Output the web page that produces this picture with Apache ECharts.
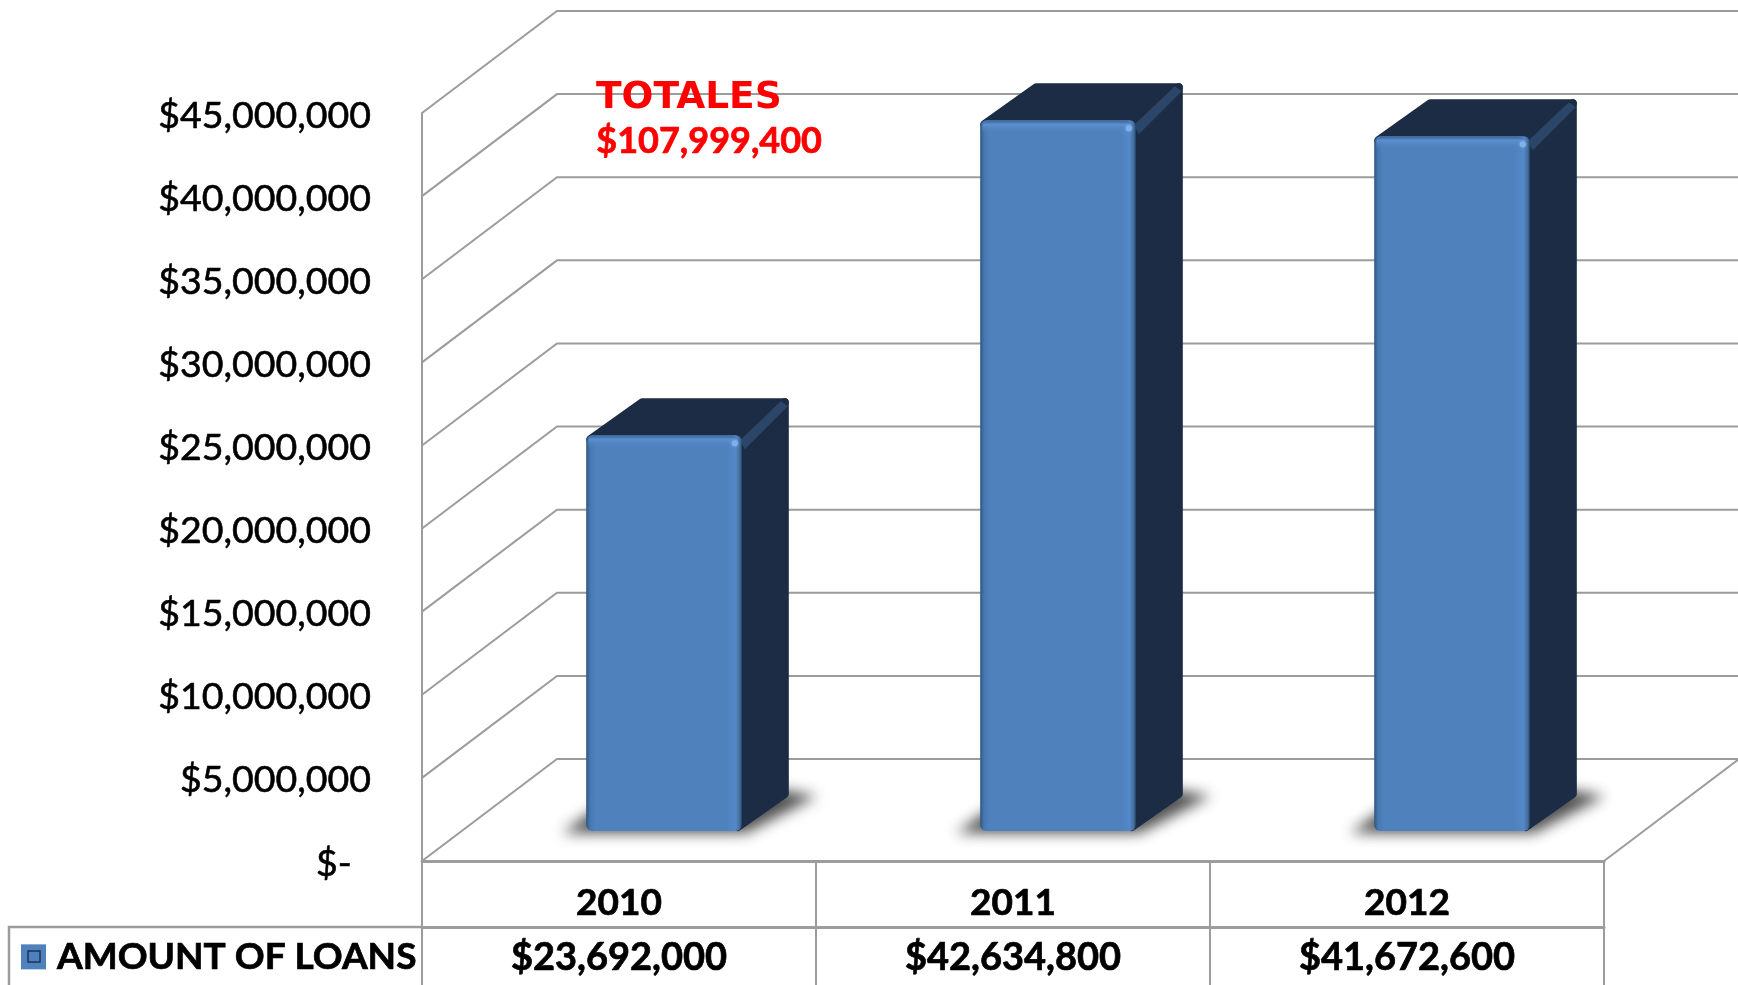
<!DOCTYPE html>
<html>
<head>
<meta charset="utf-8">
<title>Amount of loans</title>
<style type="text/css">
	html, body{
		margin: 0;
		padding: 0;
		background: #fff;
	}
	#chart_box{
		width: 1738px;
		height: 985px;
	}
</style>
<script type="text/javascript" src="https://cdn.jsdelivr.net/npm/echarts@6/dist/echarts.min.js"></script>
</head>
<body>
<div id="chart_box"></div>

<script type="text/javascript">
var categories = ['2010', '2011', '2012'];
var loanValues = [23692000, 42634800, 41672600];
var loanLabels = ['$23,692,000', '$42,634,800', '$41,672,600'];
var tickValues = [0, 5000000, 10000000, 15000000, 20000000, 25000000, 30000000, 35000000, 40000000, 45000000];
var tickLabels = ['$-  ', '$5,000,000', '$10,000,000', '$15,000,000', '$20,000,000', '$25,000,000', '$30,000,000', '$35,000,000', '$40,000,000', '$45,000,000'];
var seriesName = 'AMOUNT OF LOANS';
var totalLines = ['TOTALES', '$107,999,400'];

var GRID_COLOR = '#9c9c9c';
var FACE_COLOR = '#4f81bd';
var DARK_COLOR = '#1b2c44';
var WALL_DEPTH = [135, -102];
var BAR_OFFSET = [45, -30];
var BAR_DEPTH = [47, -37];
var BAR_RATIO = 0.395;
var SHADOW_SHIFT = 3000;

var myChart = echarts.init(document.getElementById('chart_box'), null, {renderer: 'canvas'});

// side wall, back wall and floor lines of the fake 3d box
function renderWall(params, api) {
	var rect = params.coordSys;
	var value = api.value(1);
	var y = api.coord([0, value])[1];
	var backX = rect.x + WALL_DEPTH[0];
	var backY = y + WALL_DEPTH[1];
	var points = [[rect.x, y], [backX, backY], [backX + rect.width, backY]];
	if (value === 0) {
		points.push([rect.x + rect.width, y]);
	}
	return {
		type: 'polyline',
		shape: {points: points},
		style: {stroke: GRID_COLOR, lineWidth: 2, fill: null}
	};
}

function renderBar(params, api) {
	var center = api.coord([api.value(0), 0]);
	var top = api.coord([api.value(0), api.value(1)]);
	var width = api.size([1, 0])[0] * BAR_RATIO;
	var left = center[0] + BAR_OFFSET[0] - width / 2;
	var right = left + width;
	var base = center[1] + BAR_OFFSET[1];
	var head = top[1] + BAR_OFFSET[1] - 2;
	var dx = BAR_DEPTH[0];
	var dy = BAR_DEPTH[1];
	var inset = 4;

	return {
		type: 'group',
		children: [
			// only the blurred shadow lands on the page, the polygon itself sits off to the left
			{
				type: 'polygon',
				shape: {points: [
					[left - 24 - SHADOW_SHIFT, base + 2],
					[right + 4 - SHADOW_SHIFT, base + 2],
					[right + dx + 28 - SHADOW_SHIFT, base + dy + 2],
					[right + dx - 20 - SHADOW_SHIFT, base + dy - 6],
					[left + 10 - SHADOW_SHIFT, base - 22]
				]},
				style: {
					fill: '#333',
					shadowBlur: 14,
					shadowOffsetX: SHADOW_SHIFT,
					shadowColor: 'rgba(60,60,60,0.9)'
				}
			},
			{
				type: 'polygon',
				shape: {points: [
					[left + inset, head + inset],
					[left + dx + inset + 5, head + dy + inset],
					[right + dx - inset, head + dy + inset],
					[right, head + inset]
				]},
				style: {fill: DARK_COLOR, stroke: DARK_COLOR, lineWidth: inset * 2, lineJoin: 'round'}
			},
			{
				type: 'polygon',
				shape: {points: [
					[right - inset, head + inset],
					[right + dx - inset, head + dy + inset],
					[right + dx - inset, base + dy],
					[right - inset, base - inset]
				]},
				style: {fill: DARK_COLOR, stroke: DARK_COLOR, lineWidth: inset * 2, lineJoin: 'round'}
			},
			{
				type: 'polygon',
				shape: {points: [
					[right - 2, head + 5],
					[right + dx - 8, head + dy + 3],
					[right + dx - 1, head + dy + 8],
					[right + 3, head + 14]
				]},
				style: {fill: '#2b4668'}
			},
			{
				type: 'rect',
				shape: {x: left, y: head, width: width, height: base - head, r: 6},
				style: {
					fill: new echarts.graphic.LinearGradient(0, 0, 1, 0, [
						{offset: 0, color: '#2f5580'},
						{offset: 0.025, color: '#4678b2'},
						{offset: 0.06, color: FACE_COLOR},
						{offset: 0.9, color: FACE_COLOR},
						{offset: 0.96, color: '#5488c8'},
						{offset: 0.985, color: '#44709f'},
						{offset: 1, color: '#2b4a70'}
					])
				}
			},
			{
				type: 'rect',
				shape: {x: left + 2, y: head + 1, width: width - 6, height: 12, r: [5, 5, 0, 0]},
				style: {
					fill: new echarts.graphic.LinearGradient(0, 0, 0, 1, [
						{offset: 0, color: '#3c689c'},
						{offset: 0.25, color: '#5b90cf'},
						{offset: 1, color: 'rgba(79,129,189,0)'}
					])
				}
			},
			{
				type: 'circle',
				shape: {cx: right - 7, cy: head + 8, r: 3},
				style: {fill: '#7fb2ea', shadowBlur: 3, shadowColor: '#7fb2ea'}
			}
		]
	};
}

var option = {
	animation: false,
	backgroundColor: '#fff',
	textStyle: {fontFamily: 'Lato'},
	legend: {
		left: 21,
		top: 938,
		padding: 0,
		itemWidth: 25,
		itemHeight: 25,
		icon: 'rect',
		data: [{name: seriesName, itemStyle: {color: FACE_COLOR}}],
		selectedMode: false,
		textStyle: {
			color: '#000',
			fontFamily: 'Lato',
			fontWeight: 'bold',
			fontSize: 37,
			textBorderColor: '#000',
			textBorderWidth: 0.7,
			padding: [0, 0, 0, 6]
		}
	},
	grid: {
		left: 422,
		top: 113,
		width: 1182,
		height: 748,
		containLabel: false
	},
	xAxis: [
		{
			type: 'category',
			position: 'bottom',
			data: categories,
			axisLine: {lineStyle: {color: GRID_COLOR, width: 3}},
			axisTick: {show: true, length: 66, lineStyle: {color: GRID_COLOR, width: 2}},
			axisLabel: {
				color: '#000',
				fontFamily: 'Lato',
				fontWeight: 'bold',
				fontSize: 37,
				textBorderColor: '#000',
				textBorderWidth: 0.7,
				margin: 24
			}
		},
		{
			type: 'category',
			position: 'bottom',
			offset: 66,
			data: loanLabels,
			axisLine: {lineStyle: {color: GRID_COLOR, width: 3}},
			axisTick: {show: true, length: 58, lineStyle: {color: GRID_COLOR, width: 2}},
			axisLabel: {
				color: '#000',
				fontFamily: 'Lato',
				fontWeight: 'bold',
				fontSize: 38,
				textBorderColor: '#000',
				textBorderWidth: 0.7,
				margin: 12
			}
		}
	],
	yAxis: {
		type: 'value',
		min: 0,
		max: 45000000,
		interval: 5000000,
		axisLine: {show: true, lineStyle: {color: GRID_COLOR, width: 2}},
		axisTick: {show: false},
		splitLine: {show: false},
		axisLabel: {
			color: '#000',
			fontFamily: 'Lato',
			fontSize: 37.5,
			textBorderColor: '#000',
			textBorderWidth: 0.6,
			margin: 51,
			verticalAlign: 'top',
			lineHeight: 5,
			formatter: function(value) {
				return tickLabels[tickValues.indexOf(value)];
			}
		}
	},
	graphic: [
		{
			type: 'polyline',
			z: 5,
			shape: {points: [[422, 927], [9, 927], [9, 985]]},
			style: {stroke: GRID_COLOR, lineWidth: 2.5, fill: null}
		},
		{
			type: 'rect',
			z: 20,
			shape: {x: 28, y: 951, width: 12, height: 11},
			style: {fill: 'rgba(79,129,189,0.6)', stroke: '#1c3556', lineWidth: 1.5}
		},
		{
			type: 'text',
			z: 30,
			left: 596,
			top: 79,
			style: {text: totalLines[0], fill: '#ff0000', font: 'bold 37.5px "DejaVu Sans"'}
		},
		{
			type: 'text',
			z: 30,
			left: 596,
			top: 123,
			style: {
				text: totalLines[1],
				fill: '#ff0000',
				font: 'bold 36px Lato',
				stroke: '#ff0000',
				lineWidth: 0.7
			}
		}
	],
	series: [
		{
			name: 'wall',
			type: 'custom',
			z: 1,
			silent: true,
			renderItem: renderWall,
			encode: {x: 0, y: 1},
			data: tickValues.map(function(v) {
				return [0, v];
			})
		},
		{
			name: seriesName,
			type: 'custom',
			z: 3,
			itemStyle: {color: FACE_COLOR},
			renderItem: renderBar,
			encode: {x: 0, y: 1},
			data: loanValues.map(function(v, i) {
				return [i, v];
			})
		}
	]
};
myChart.setOption(option);
</script>
</body>
</html>
